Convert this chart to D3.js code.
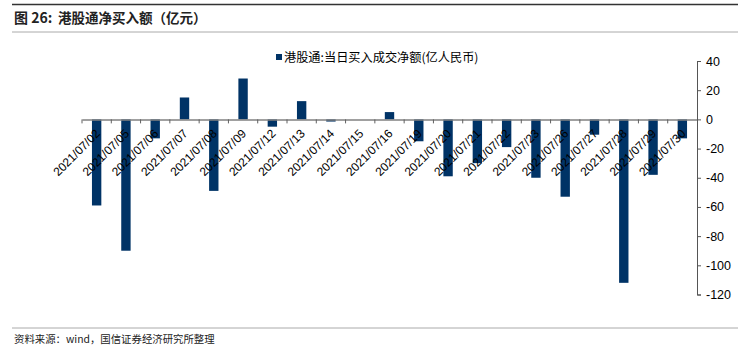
<!DOCTYPE html>
<html><head><meta charset="utf-8">
<script src="https://cdn.jsdelivr.net/npm/d3@7"></script>
<style>body{margin:0;background:#fff}svg{display:block}</style>
</head><body>
<svg id="c" width="750" height="350"></svg>
<script>
const categories = ["2021/07/02","2021/07/05","2021/07/06","2021/07/07","2021/07/08","2021/07/09","2021/07/12","2021/07/13","2021/07/14","2021/07/15","2021/07/16","2021/07/19","2021/07/20","2021/07/21","2021/07/22","2021/07/23","2021/07/26","2021/07/27","2021/07/28","2021/07/29","2021/07/30"];
const values = [-59,-90,-13,15,-49,28,-5,12.5,-1.5,0,5,-15,-39,-30,-19,-40,-53,-10.5,-112,-38,-13];
const yTicks = [40,20,0,-20,-40,-60,-80,-100,-120];
const seriesName = "港股通:当日买入成交净额(亿人民币)";
const titleNum = "图 26:";
const titleText = "港股通净买入额（亿元）";
const source = "资料来源：wind，国信证券经济研究所整理";

const svg = d3.select("#c");
const font = "'Liberation Sans', Arial, 'Noto Sans CJK SC', sans-serif";
const cjk = "'Noto Sans CJK SC', sans-serif";

// header lines
svg.append("line").attr("x1",12).attr("x2",738).attr("y1",4.5).attr("y2",4.5).attr("stroke","#333").attr("stroke-width",1.5);
svg.append("line").attr("x1",12).attr("x2",738).attr("y1",32).attr("y2",32).attr("stroke","#aaa").attr("stroke-width",1);
svg.append("text").attr("x",14).attr("y",23).attr("font-family",cjk).attr("font-size",14).attr("font-weight","bold").attr("fill","#222").text(titleNum);
svg.append("text").attr("x",58).attr("y",23).attr("font-family",cjk).attr("font-size",13.5).attr("font-weight","bold").attr("fill","#222").text(titleText);
svg.append("line").attr("x1",12).attr("x2",738).attr("y1",328).attr("y2",328).attr("stroke","#aaa").attr("stroke-width",1);
svg.append("text").attr("x",14).attr("y",343).attr("font-family",cjk).attr("font-size",10.4).attr("fill","#222").text(source);

const x = d3.scaleBand().domain(categories).range([82,697]).paddingInner(0).paddingOuter(0);
const y = d3.scaleLinear().domain([-120,40]).range([294.5,61]);
const bw = x.bandwidth()*0.32;

// bars
svg.append("g").selectAll("rect").data(values).join("rect")
  .attr("x",(d,i)=>x(categories[i])+x.bandwidth()/2-bw/2)
  .attr("y",d=>y(Math.max(0,d)))
  .attr("width",bw)
  .attr("height",d=>Math.abs(y(d)-y(0)))
  .attr("fill","#003366");

// zero axis
const xAxis = d3.axisBottom(x).tickSize(0).tickFormat("");
const gx = svg.append("g").attr("transform",`translate(0,${y(0)})`).call(xAxis);
gx.select(".domain").attr("stroke","#808080").attr("stroke-width",1.5);
svg.append("g").selectAll("line").data(categories).join("line")
  .attr("x1",d=>x(d)).attr("x2",d=>x(d))
  .attr("y1",y(0)).attr("y2",y(0)+4).attr("stroke","#606060").attr("stroke-width",1);

// category labels
svg.append("g").selectAll("text").data(categories).join("text")
  .attr("transform",d=>`translate(${x(d)+x.bandwidth()/2+4},${y(0)+15}) rotate(-45)`)
  .attr("text-anchor","end")
  .attr("font-family",font).attr("font-size",12).attr("fill","#000").text(d=>d);

// right y axis
const yAxis = d3.axisRight(y).tickValues(yTicks).tickSize(4).tickSizeOuter(4).tickFormat(d=>String(d));
const gy = svg.append("g").attr("transform","translate(697,0)").call(yAxis);
gy.select(".domain").attr("stroke","#555");
gy.selectAll(".tick line").attr("stroke","#555");
gy.selectAll(".tick text").attr("x",9).attr("font-family",font).attr("font-size",12.5).attr("fill","#000");

// legend
svg.append("rect").attr("x",276).attr("y",54).attr("width",6).attr("height",6).attr("fill","#003366");
svg.append("text").attr("x",284).attr("y",61.5).attr("font-family",cjk).attr("font-size",12.2).attr("fill","#000").text(seriesName);
</script>
</body></html>
